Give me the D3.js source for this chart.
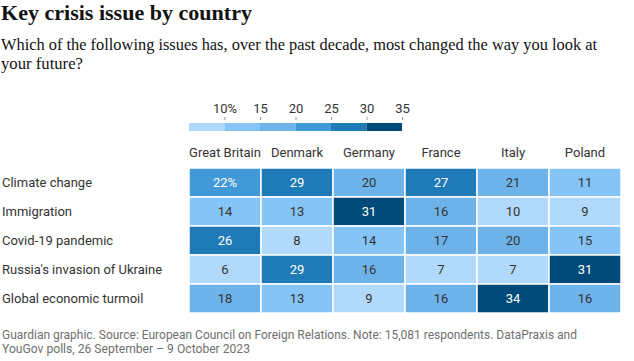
<!DOCTYPE html>
<html>
<head>
<meta charset="utf-8">
<script src="https://cdn.jsdelivr.net/npm/d3@7"></script>
<style>
  body { margin: 0; background: #fff; }
  svg text { font-family: Roboto, "Open Sans", sans-serif; }
  .serif { font-family: "Liberation Serif", serif !important; }
</style>
</head>
<body>
<div id="chart"></div>
<script>
(function () {

  var countries = ["Great Britain", "Denmark", "Germany", "France", "Italy", "Poland"];
  var issues = ["Climate change", "Immigration", "Covid-19 pandemic", "Russia's invasion of Ukraine", "Global economic turmoil"];
  // one array per issue, in country order
  var climate = [22, 29, 20, 27, 21, 11];
  var immigration = [14, 13, 31, 16, 10, 9];
  var covid = [26, 8, 14, 17, 20, 15];
  var russia = [6, 29, 16, 7, 7, 31];
  var economy = [18, 13, 9, 16, 34, 16];
  var legendTicks = [10, 15, 20, 25, 30, 35];
  var binEdges = [5, 10, 15, 20, 25, 30, 35];
  var colours = ["#b0d9fb", "#85c4f6", "#6db3ea", "#4199d7", "#1f7ab8", "#004a7a"];

  var rows = [climate, immigration, covid, russia, economy];

  var w = 634, h = 361;

  var svg = d3.select("#chart")
    .append("svg")
    .attr("width", w)
    .attr("height", h);

  // title + subtitle (textLength to match the narrower Guardian fonts)
  svg.append("text")
    .attr("class", "serif")
    .attr("x", 1)
    .attr("y", 20)
    .attr("font-size", 22)
    .attr("font-weight", "bold")
    .attr("textLength", 251)
    .attr("lengthAdjust", "spacingAndGlyphs")
    .style("fill", "#121212")
    .text("Key crisis issue by country");

  var sub = ["Which of the following issues has, over the past decade, most changed the way you look at", "your future?"];
  var subLen = [596, 82];
  svg.selectAll(".sub")
    .data(sub)
    .enter().append("text")
    .attr("class", "serif sub")
    .attr("x", 1)
    .attr("y", function (d, i) { return 50 + i * 19; })
    .attr("font-size", 17)
    .attr("textLength", function (d, i) { return subLen[i]; })
    .attr("lengthAdjust", "spacingAndGlyphs")
    .style("fill", "#121212")
    .text(function (d) { return d; });

  // colour scale, thresholds
  var colour = d3.scaleThreshold()
    .domain([11, 16, 22, 26, 31])
    .range(colours);

  // legend
  var lx = d3.scaleLinear().domain([5, 35]).range([189, 402]);

  svg.selectAll(".bin")
    .data(d3.range(binEdges.length - 1))
    .enter().append("rect")
    .attr("x", function (i) { return lx(binEdges[i]); })
    .attr("y", 123)
    .attr("width", function (i) { return lx(binEdges[i + 1]) - lx(binEdges[i]); })
    .attr("height", 8)
    .style("fill", function (i) { return colours[i]; });

  var legendAxis = d3.axisTop(lx)
    .tickValues(legendTicks)
    .tickSize(3)
    .tickPadding(4)
    .tickFormat(function (d, i) { return i === 0 ? d + "%" : d; });

  var lg = svg.append("g")
    .attr("transform", "translate(0,120)")
    .call(legendAxis);
  lg.select(".domain").remove();
  lg.selectAll(".tick line").attr("stroke", "#999");
  lg.selectAll(".tick text")
    .attr("font-size", 13)
    .attr("font-family", null)
    .style("fill", "#333");

  // grid
  var x = d3.scaleBand().domain(countries).range([189, 621]);
  var y = d3.scaleBand().domain(issues).range([168, 313]);

  svg.selectAll(".col")
    .data(countries)
    .enter().append("text")
    .attr("x", function (d) { return x(d) + x.bandwidth() / 2; })
    .attr("y", 157)
    .attr("text-anchor", "middle")
    .attr("font-size", 13)
    .style("fill", "#333")
    .text(function (d) { return d; });

  svg.selectAll(".rowlabel")
    .data(issues)
    .enter().append("text")
    .attr("x", 2)
    .attr("y", function (d) { return y(d) + y.bandwidth() / 2; })
    .attr("dy", "0.35em")
    .attr("font-size", 13)
    .style("fill", "#333")
    .text(function (d) { return d; });

  var cells = [];
  rows.forEach(function (vals, r) {
    vals.forEach(function (v, c) {
      cells.push({ issue: issues[r], country: countries[c], value: v, first: r === 0 && c === 0 });
    });
  });

  svg.selectAll(".cell")
    .data(cells)
    .enter().append("rect")
    .attr("x", function (d) { return x(d.country); })
    .attr("y", function (d) { return y(d.issue); })
    .attr("width", x.bandwidth())
    .attr("height", y.bandwidth())
    .style("fill", function (d) { return colour(d.value); })
    .style("stroke", "#fff")
    .style("stroke-width", 1.5);

  svg.selectAll(".val")
    .data(cells)
    .enter().append("text")
    .attr("x", function (d) { return x(d.country) + x.bandwidth() / 2; })
    .attr("y", function (d) { return y(d.issue) + y.bandwidth() / 2; })
    .attr("dy", "0.35em")
    .attr("text-anchor", "middle")
    .attr("font-size", 13)
    .style("fill", function (d) { return d.value >= 22 ? "#fff" : "#333"; })
    .text(function (d) { return d.first ? d.value + "%" : d.value; });

  // footer
  var foot = ["Guardian graphic. Source: European Council on Foreign Relations. Note: 15,081 respondents. DataPraxis and", "YouGov polls, 26 September \u2013 9 October 2023"];
  var footLen = [575, 248];
  svg.selectAll(".foot")
    .data(foot)
    .enter().append("text")
    .attr("x", 2)
    .attr("y", function (d, i) { return 339 + i * 13.5; })
    .attr("font-size", 13)
    .attr("textLength", function (d, i) { return footLen[i]; })
    .attr("lengthAdjust", "spacingAndGlyphs")
    .style("fill", "#707070")
    .text(function (d) { return d; });

})();
</script>
</body>
</html>
